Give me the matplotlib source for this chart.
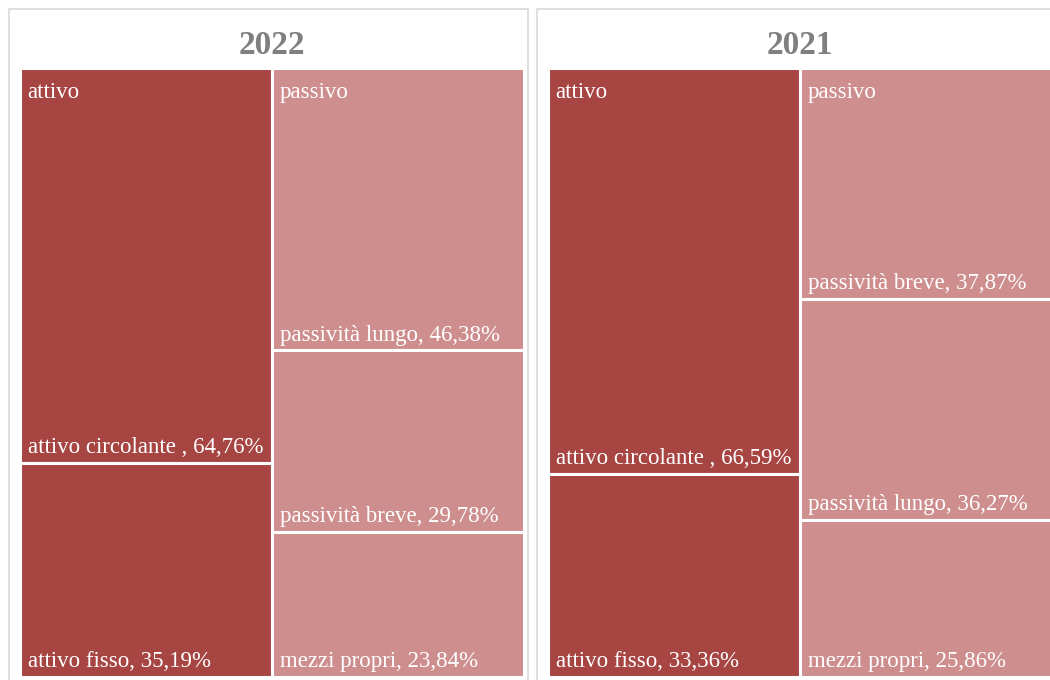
import matplotlib.pyplot as plt
from matplotlib.patches import Rectangle

plt.rcParams['font.family'] = ['Liberation Serif', 'DejaVu Serif']

anni = ['2022', '2021']
gruppi = ['attivo', 'passivo']

voci_attivo = ['attivo circolante ', 'attivo fisso']
attivo_2022 = [64.76, 35.19]
attivo_2021 = [66.59, 33.36]

voci_passivo_2022 = ['passività lungo', 'passività breve', 'mezzi propri']
passivo_2022 = [46.38, 29.78, 23.84]
voci_passivo_2021 = ['passività breve', 'passività lungo', 'mezzi propri']
passivo_2021 = [37.87, 36.27, 25.86]

dati = {
    '2022': [(voci_attivo, attivo_2022), (voci_passivo_2022, passivo_2022)],
    '2021': [(voci_attivo, attivo_2021), (voci_passivo_2021, passivo_2021)],
}
colori = ['#A74543', '#CF8E8E']

W, H = 1050, 680
fig = plt.figure(figsize=(W / 100, H / 100), dpi=100)


def px_box(x0, y0, x1, y1):
    # pixel box (top-left origin) -> figure fraction [left, bottom, width, height]
    return [x0 / W, 1 - y1 / H, (x1 - x0) / W, (y1 - y0) / H]


def fmt(v):
    return f'{v:.2f}'.replace('.', ',') + '%'


pannelli = [(9, 20), (537, 548)]
for anno, (bx, tx) in zip(anni, pannelli):
    # cornice grigia del pannello
    l, b, w, h = px_box(bx, 9, bx + 519, 700)
    fig.add_artist(Rectangle((l, b), w, h, transform=fig.transFigure,
                             facecolor='none', edgecolor='#D9D9D9', lw=1.2,
                             zorder=-1))
    ax = fig.add_axes(px_box(tx, 68, tx + 504, 677))
    ax.set_xlim(0, 2)
    ax.set_ylim(1, 0)
    ax.axis('off')
    ax.set_title(anno, fontsize=24, fontweight='bold', color='#7F7F7F', pad=10)

    for col, ((voci, valori), gruppo, colore) in enumerate(zip(dati[anno], gruppi, colori)):
        tot = sum(valori)
        y = 0
        for voce, v in zip(voci, valori):
            hgt = v / tot
            ax.add_patch(Rectangle((col, y), 1, hgt, facecolor=colore,
                                   edgecolor='white', lw=2.2))
            ax.annotate(f'{voce}, {fmt(v)}', (col, y + hgt), xytext=(5.5, 7),
                        textcoords='offset points', fontsize=16.5, color='white',
                        ha='left', va='baseline')
            y += hgt
        ax.annotate(gruppo, (col, 0), xytext=(5.5, -10), textcoords='offset points',
                    fontsize=16.5, color='white', ha='left', va='top')

fig.savefig('out.png', dpi=100)
